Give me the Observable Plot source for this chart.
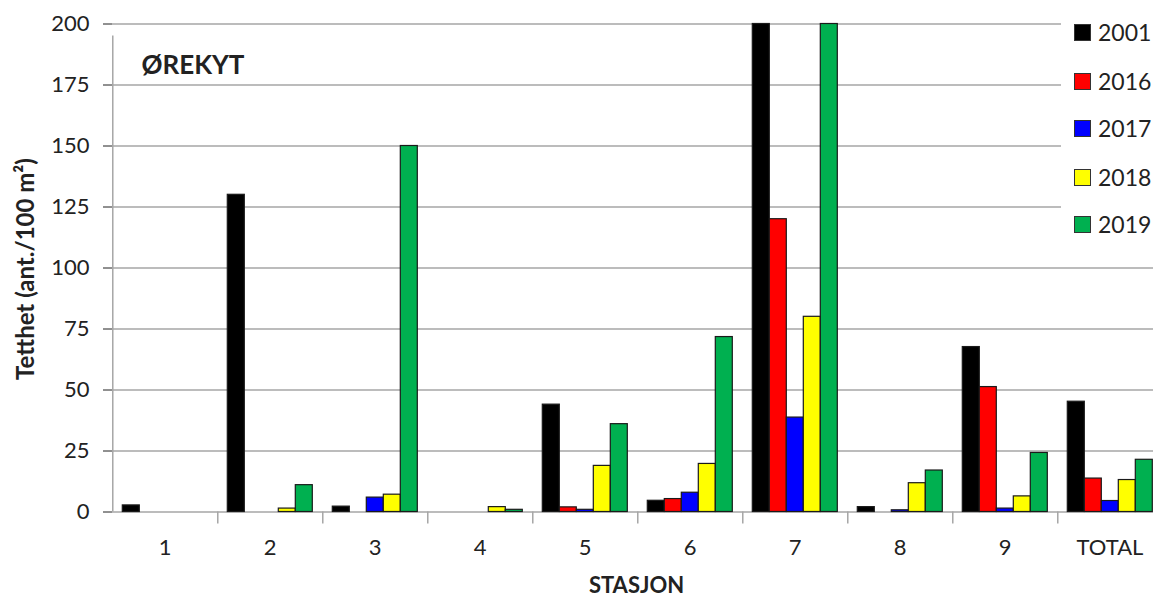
<!DOCTYPE html>
<html><head><meta charset="utf-8">
<script src="https://cdn.jsdelivr.net/npm/d3@7"></script>
<script src="https://cdn.jsdelivr.net/npm/@observablehq/plot@0.6"></script>
<style>
html,body{margin:0;padding:0;overflow:hidden;background:#fff;}
#wrap{position:relative;width:1153px;height:597px;overflow:hidden;font-family:Lato,"Open Sans",sans-serif;color:#222;}
#wrap svg{position:absolute;left:0;top:0;}
#wrap g[aria-label="y-axis tick"]{stroke:#a6a6a6;}
#wrap .tick line{stroke:#a6a6a6;}
.lbl{position:absolute;white-space:nowrap;line-height:1;transform:translate(-50%,-50%);}
#legend{position:absolute;left:1061px;top:0;width:92px;height:245px;background:#fff;}
.item{position:absolute;left:13px;height:24px;display:flex;align-items:center;transform:translateY(-50%);font-size:23px;}
.sw{width:15px;height:15px;border:1px solid #333;margin-right:7px;box-sizing:content-box;}
</style></head><body><div id="wrap"></div>
<script>
const stations = ["1","2","3","4","5","6","7","8","9","TOTAL"];
const years = ["2001","2016","2017","2018","2019"];
const v2001 = [2.7,130,2.2,0,44,4.6,230,2,67.6,45.2];
const v2016 = [0,0,0,0,1.9,5.3,120,0,51.2,13.7];
const v2017 = [0,0,5.9,0,0.9,7.9,38.7,0.7,1.4,4.5];
const v2018 = [0,1.4,7.1,2.0,18.9,19.7,80,11.8,6.4,13.1];
const v2019 = [0,11,150,0.9,36,71.7,230,17,24.2,21.4];
const yTicks = [0,25,50,75,100,125,150,175,200];
const colors = ["#000000","#ff0000","#0000ff","#ffff00","#00b050"];

const series = [v2001,v2016,v2017,v2018,v2019];
const data = stations.flatMap((s,i)=>years.map((y,j)=>({station:s, year:y, value:series[j][i]}))).filter(d=>d.value>0);

const fxStart = 111.7, fxStep = 105.04;
const chart = Plot.plot({
  width: 1153, height: 597,
  marginLeft: fxStart, marginRight: 0, marginTop: 23.5, marginBottom: 85.5,
  style: {fontFamily: "Lato, 'Open Sans', sans-serif", fontSize: "22px", color: "#222", background: "transparent"},
  fx: {domain: stations, range: [fxStart, fxStart + fxStep*stations.length], padding: 0, axis: "bottom", label: null, tickSize: 0, tickPadding: 27},
  x: {domain: years, axis: null, paddingInner: 0, paddingOuter: 0.47},
  y: {domain: [0,200], clamp: true, ticks: yTicks, tickSize: 9, tickPadding: 14, label: null},
  color: {domain: years, range: colors},
  marks: [
    Plot.ruleY(yTicks, {y: d=>d, stroke: "#a6a6a6", strokeWidth: 1.5}),
    Plot.ruleX(stations, {fx: d=>d, x: d=>"2017", y1: 0, y2: d=> d===stations[0] ? 200 : 0, insetBottom: -12, dx: -fxStep/2, stroke: "#a6a6a6", strokeWidth: 1.5}),
    Plot.barY(data, {fx: "station", x: "year", y: "value", fill: "year", stroke: "#1a1a1a", strokeWidth: 1.2})
  ]
});
const wrap = document.getElementById("wrap");
wrap.appendChild(chart);

function addLabel(text, x, y, style){
  const d = document.createElement("div");
  d.className = "lbl"; d.textContent = text;
  d.style.left = x+"px"; d.style.top = y+"px";
  Object.assign(d.style, style);
  wrap.appendChild(d);
}
addLabel("ØREKYT", 193, 64, {fontWeight:"bold", fontSize:"26px"});
addLabel("STASJON", 636.5, 585, {fontWeight:"bold", fontSize:"22px"});
addLabel("Tetthet (ant./100 m²)", 25, 269, {fontWeight:"bold", fontSize:"24px", transform:"translate(-50%,-50%) rotate(-90deg)"});

const legend = document.createElement("div");
legend.id = "legend";
const legY = [32,81,128,177,224];
years.forEach((y,i)=>{
  const it = document.createElement("div");
  it.className = "item"; it.style.top = legY[i]+"px";
  const sw = document.createElement("div"); sw.className="sw"; sw.style.background = colors[i];
  const t = document.createElement("span"); t.textContent = y;
  it.appendChild(sw); it.appendChild(t);
  legend.appendChild(it);
});
wrap.appendChild(legend);
</script></body></html>
